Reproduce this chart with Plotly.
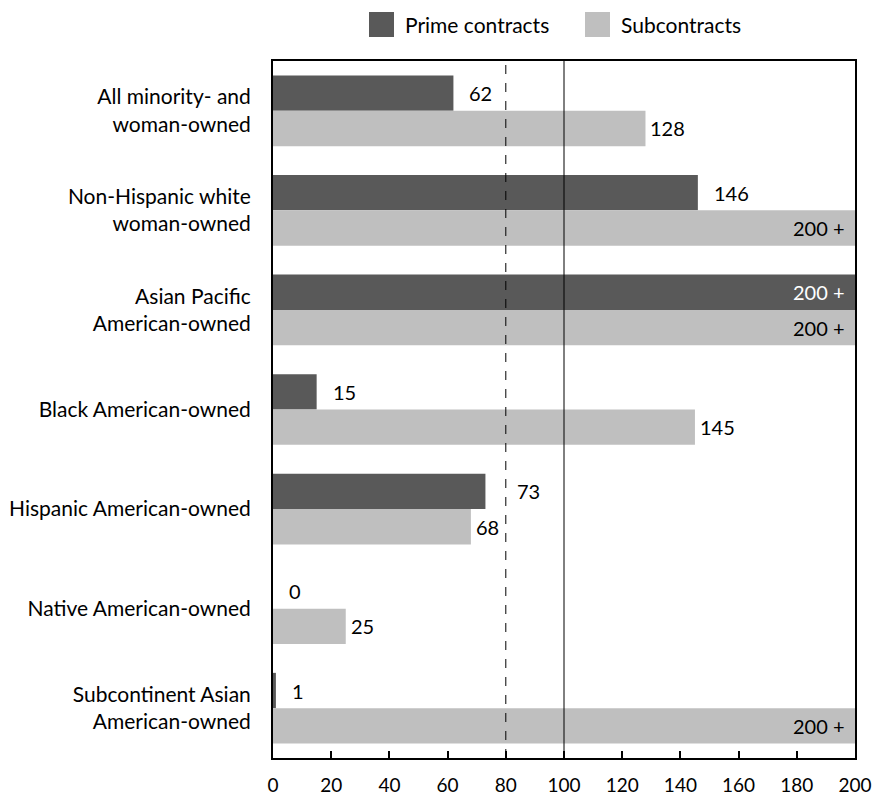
import plotly.graph_objects as go

categories = [
    "All minority- and<br>woman-owned",
    "Non-Hispanic white<br>woman-owned",
    "Asian Pacific<br>American-owned",
    "Black American-owned",
    "Hispanic American-owned",
    "Native American-owned",
    "Subcontinent Asian<br>American-owned",
]
# Values above 200 are capped at the axis limit and labelled "200 +"
prime = [62, 146, 200, 15, 73, 0, 1]
sub = [128, 200, 200, 145, 68, 25, 200]
prime_labels = ["62", "146", "200 +", "15", "73", "0", "1"]
sub_labels = ["128", "200 +", "200 +", "145", "68", "25", "200 +"]
x_ticks = [0, 20, 40, 60, 80, 100, 120, 140, 160, 180, 200]

DARK = "#595959"
LIGHT = "#bfbfbf"
FONT = "Lato, sans-serif"

W, H = 879, 798
L, R, T, B = 273, 24, 61, 40
BARGAP = 0.29
HALF = (1 - BARGAP) / 4  # centre offset of each bar within its group
REF_DASH = 80
PX_PER_UNIT = (W - L - R) / 200

fig = go.Figure()
idx = list(range(len(categories)))
fig.add_trace(go.Bar(y=idx, x=prime, orientation="h", name="Prime contracts",
                     marker=dict(color=DARK, line=dict(width=0)), showlegend=False))
fig.add_trace(go.Bar(y=idx, x=sub, orientation="h", name="Subcontracts",
                     marker=dict(color=LIGHT, line=dict(width=0)), showlegend=False))

# value labels; prime labels that would sit on the dashed line are moved past it
annotations = []
for series, labels, off, inside_col, out_shift, avoid in (
        (prime, prime_labels, -HALF, "white", 14, True),
        (sub, sub_labels, HALF, "black", 3, False)):
    for i, (v, lab) in enumerate(zip(series, labels)):
        inside = lab.endswith("+")
        x, shift = v, (-8 if inside else out_shift)
        if avoid and not inside and v < REF_DASH:
            end_px = v * PX_PER_UNIT + shift + 12 * len(lab)
            if end_px > REF_DASH * PX_PER_UNIT - 2:
                x, shift = REF_DASH, 9
        annotations.append(dict(
            x=x, y=i + off, xref="x", yref="y", text=lab, showarrow=False,
            xanchor="right" if inside else "left", xshift=shift,
            font=dict(family=FONT, size=20, color=inside_col if inside else "black"),
        ))

# reference lines at 80 (dashed) and 100 (solid)
shapes = [
    dict(type="line", xref="x", yref="paper", x0=REF_DASH, x1=REF_DASH, y0=0, y1=1,
         line=dict(color="black", width=1, dash="dash")),
    dict(type="line", xref="x", yref="paper", x0=100, x1=100, y0=0, y1=1,
         line=dict(color="black", width=1)),
]

# legend drawn with square swatches above the plot
pw, ph = W - L - R, H - T - B
def px_x(p):
    return (p - L) / pw
def px_y(p):
    return (H - B - p) / ph

legend_items = [("Prime contracts", DARK, 369), ("Subcontracts", LIGHT, 585)]
for name, color, x0 in legend_items:
    shapes.append(dict(type="rect", xref="paper", yref="paper",
                       x0=px_x(x0), x1=px_x(x0 + 25), y0=px_y(37), y1=px_y(12),
                       fillcolor=color, line=dict(width=0)))
    annotations.append(dict(x=px_x(x0 + 34), y=px_y(25), xref="paper", yref="paper",
                            text=name, showarrow=False, xanchor="left", yanchor="middle",
                            font=dict(family=FONT, size=21, color="black")))

fig.update_layout(
    width=W, height=H,
    margin=dict(l=L, r=R, t=T, b=B, autoexpand=False),
    paper_bgcolor="white", plot_bgcolor="white",
    barmode="group", bargap=BARGAP, bargroupgap=0,
    font=dict(family=FONT, size=20, color="black"),
    showlegend=False,
    shapes=shapes, annotations=annotations,
    xaxis=dict(range=[0, 200], tickvals=x_ticks, ticks="inside", ticklen=7,
               tickwidth=1.5, tickcolor="black", showgrid=False, zeroline=False,
               showline=True, linecolor="black", linewidth=2, mirror=True,
               automargin=False, layer="above traces",
               ticklabelstandoff=9, tickfont=dict(size=19)),
    yaxis=dict(range=[len(categories) - 0.5, -0.5], tickvals=idx, ticktext=categories,
               showgrid=False, zeroline=False,
               showline=True, linecolor="black", linewidth=2, mirror=True,
               automargin=False, layer="above traces",
               ticks="", ticklabelstandoff=16, tickfont=dict(size=21)),
)

fig.write_html("out.html")
